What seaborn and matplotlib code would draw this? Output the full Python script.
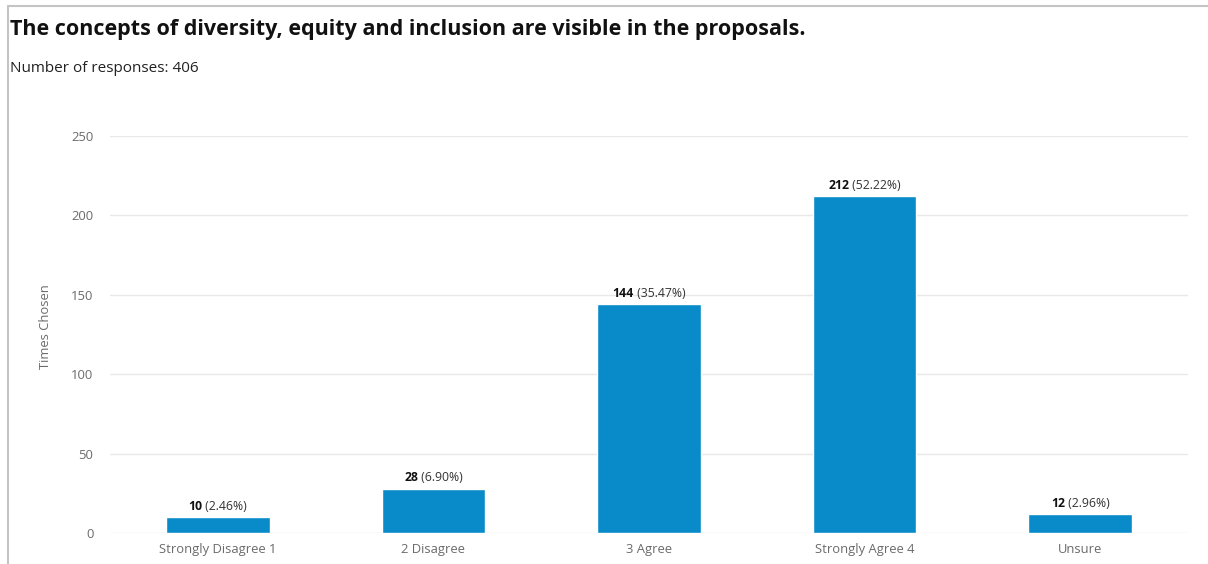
import matplotlib
matplotlib.use("Agg")
import matplotlib.pyplot as plt
from matplotlib.lines import Line2D
import seaborn as sns
import pandas as pd

categories = ["Strongly Disagree 1", "2 Disagree", "3 Agree", "Strongly Agree 4", "Unsure"]
counts = [10, 28, 144, 212, 12]
percents = ["2.46%", "6.90%", "35.47%", "52.22%", "2.96%"]
yticks = [0, 50, 100, 150, 200, 250]

title = "The concepts of diversity, equity and inclusion are visible in the proposals."
subtitle = "Number of responses: 406"
ylabel = "Times Chosen"

sns.set_theme(style="white")
plt.rcParams["font.family"] = ["Open Sans", "DejaVu Sans"]

W, H = 1208, 564
fig = plt.figure(figsize=(W / 100, H / 100), dpi=100)
fig.patch.set_facecolor("white")

ax = fig.add_axes([110 / W, 31 / H, (1188 - 110) / W, (533 - 136) / H])

df = pd.DataFrame({"category": categories, "count": counts})
sns.barplot(data=df, x="category", y="count", color="#0a8bc9", saturation=1,
            width=0.48, ax=ax)

ax.set_ylim(0, 250)
ax.set_yticks(yticks)
ax.set_xlim(-0.5, len(categories) - 0.5)
ax.yaxis.grid(True, color="#e8e8e8", linewidth=1)
ax.set_axisbelow(True)
for s in ax.spines.values():
    s.set_visible(False)
ax.tick_params(axis="both", length=0, colors="#6b6b6b", labelsize=9.4)
ax.tick_params(axis="x", pad=7)
ax.tick_params(axis="y", pad=12)
ax.set_xlabel("")
ax.set_ylabel(ylabel, color="#6b6b6b", fontsize=9.4)
ax.yaxis.set_label_coords(-0.054, 0.52)

# value labels: bold count followed by the share in regular weight
fig.canvas.draw()
renderer = fig.canvas.get_renderer()
for i, (c, p) in enumerate(zip(counts, percents)):
    t1 = ax.annotate(str(c), xy=(i, c), xytext=(0, 3), textcoords="offset points",
                     ha="left", va="bottom", fontsize=8.8, fontweight="bold", color="#111111")
    t2 = ax.annotate(f" ({p})", xy=(i, c), xytext=(0, 3), textcoords="offset points",
                     ha="left", va="bottom", fontsize=8.8, color="#333333")
    w1 = t1.get_window_extent(renderer).width
    w2 = t2.get_window_extent(renderer).width
    total = w1 + w2
    dx1 = -total / 2
    dx2 = -total / 2 + w1
    t1.set_position((dx1 * 72 / fig.dpi, 3))
    t2.set_position((dx2 * 72 / fig.dpi, 3))

fig.text(10 / W, 1 - 30 / H, title, fontsize=15.5, fontweight="bold", color="#111111",
         ha="left", va="center")
fig.text(10 / W, 1 - 68 / H, subtitle, fontsize=11, color="#222222", ha="left", va="center")

# panel frame on the left and top edges
fig.add_artist(Line2D([8 / W, 8 / W], [0, 1 - 6 / H], transform=fig.transFigure,
                      color="#c4c4c4", linewidth=1.5))
fig.add_artist(Line2D([8 / W, 1], [1 - 6 / H, 1 - 6 / H], transform=fig.transFigure,
                      color="#c4c4c4", linewidth=1.5))

fig.savefig("out.png", dpi=100, facecolor="white")
